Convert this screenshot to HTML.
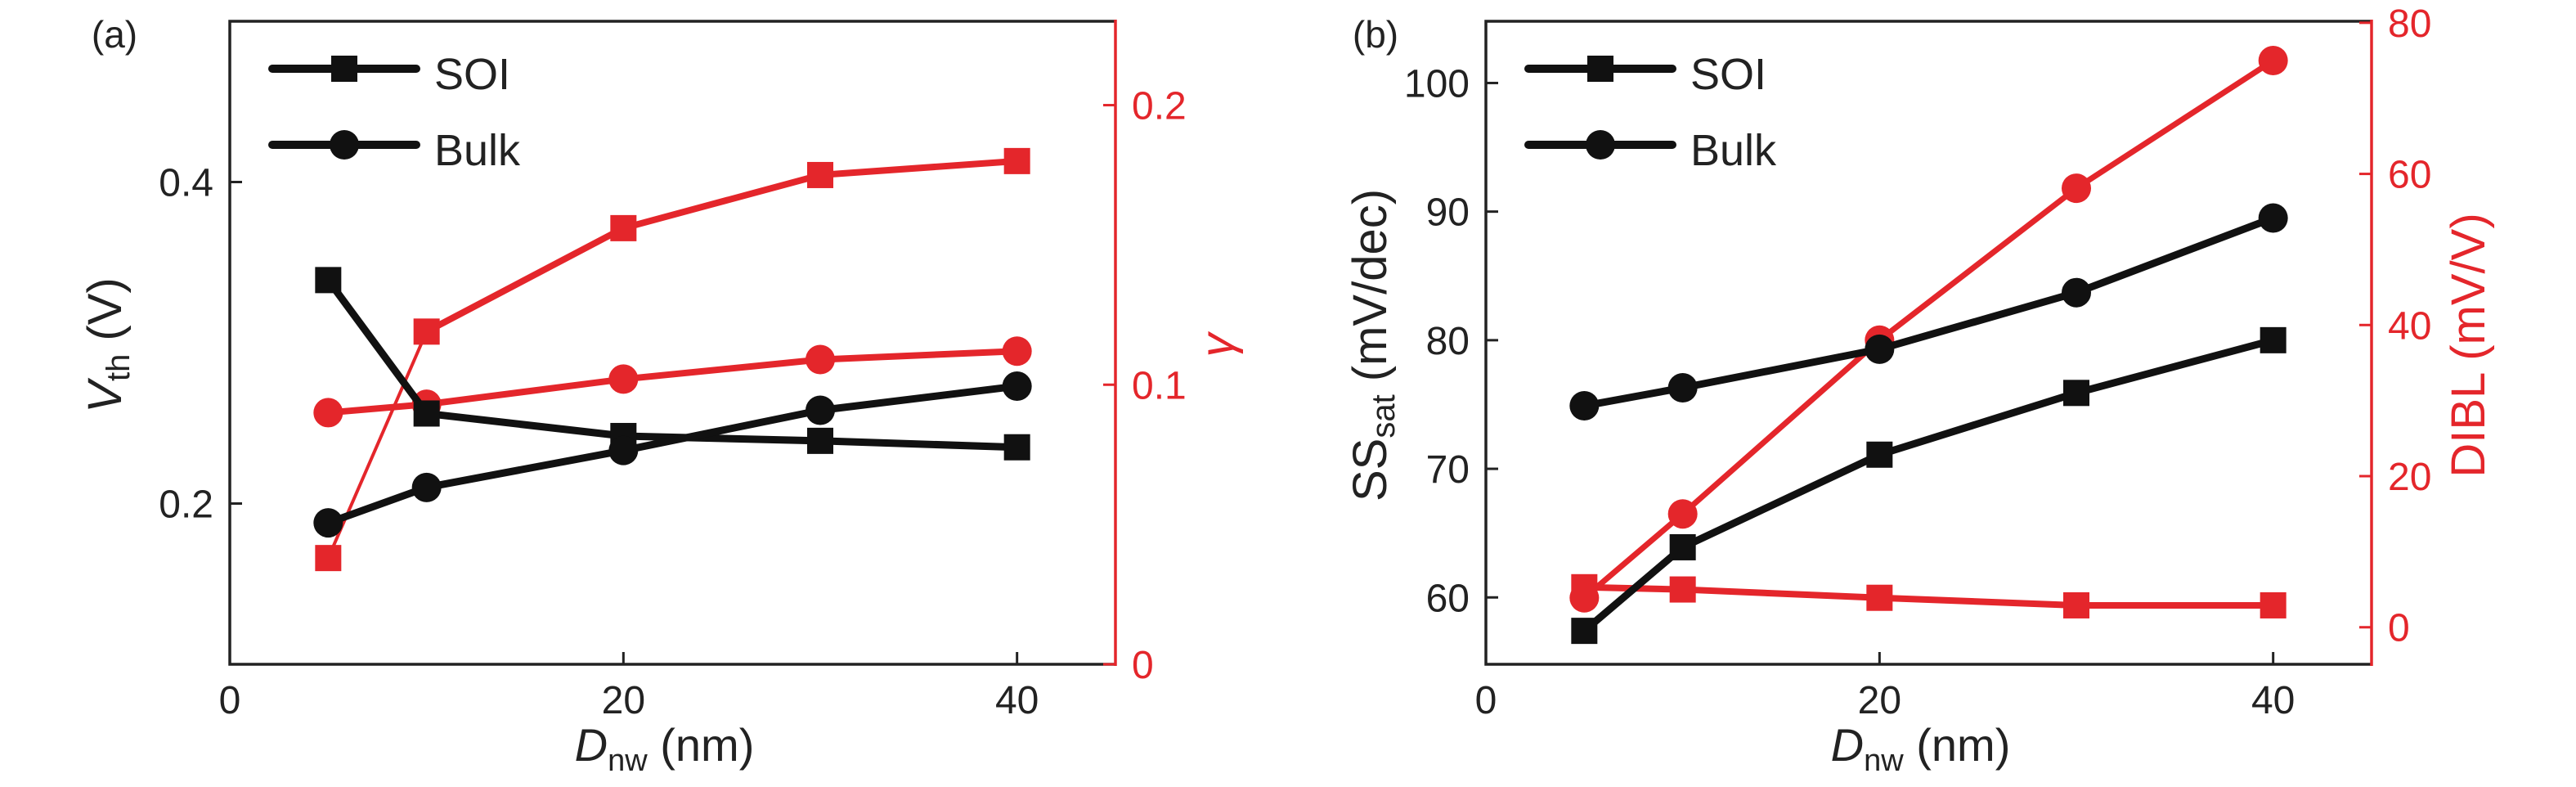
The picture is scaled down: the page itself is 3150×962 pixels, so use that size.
<!DOCTYPE html>
<html><head><meta charset="utf-8">
<style>
html,body{margin:0;padding:0;background:#fff;}
svg{display:block;font-family:"Liberation Sans",sans-serif;}
</style></head>
<body>
<svg id="chart" width="3150" height="962" viewBox="0 0 3150 962" xmlns="http://www.w3.org/2000/svg"></svg>
<script>
const xVals = [5, 10, 20, 30, 40];
const xTicks = [0, 20, 40];
// panel a
const vthSOI = [0.339, 0.256, 0.242, 0.239, 0.235];
const vthBulk = [0.188, 0.210, 0.233, 0.258, 0.273];
const gammaSOI = [0.038, 0.119, 0.156, 0.175, 0.180];
const gammaBulk = [0.090, 0.093, 0.102, 0.109, 0.112];
const vthTicks = [0.2, 0.4];
const vthTickLabels = ["0.2", "0.4"];
const gammaTicks = [0, 0.1, 0.2];
const gammaTickLabels = ["0", "0.1", "0.2"];
// panel b
const ssSOI = [57.4, 63.9, 71.1, 75.9, 80.0];
const ssBulk = [74.9, 76.3, 79.3, 83.7, 89.5];
const diblSOI = [5.3, 5.0, 3.9, 2.9, 2.9];
const diblBulk = [3.9, 15, 38, 58.1, 75];
const ssTicks = [60, 70, 80, 90, 100];
const diblTicks = [0, 20, 40, 60, 80];

const NS = "http://www.w3.org/2000/svg";
const svg = document.getElementById("chart");
const RED = "#e4262b", BLK = "#111";
function mk(tag, attrs, parent) {
  const e = document.createElementNS(NS, tag);
  for (const k in attrs) e.setAttribute(k, attrs[k]);
  (parent || svg).appendChild(e);
  return e;
}
function lin(d0, d1, r0, r1) { return v => r0 + (v - d0) / (d1 - d0) * (r1 - r0); }

function panel(cfg) {
  const g = mk("g", {});
  
  
  const L = cfg.L, R = cfg.R, T = 26, B = 812;
  const x = lin(0, 45, L, R);
  const yl = lin(cfg.lmin, cfg.lmax, B, T);
  const yr = lin(cfg.rmin, cfg.rmax, B, T);
  // frame
  const fr = mk("path", {d: `M${R} ${T} L${L} ${T} L${L} ${B} L${R} ${B}`, fill: "none", stroke: "#222", "stroke-width": 3.5}, g);
  
  
  const ra = mk("line", {x1: R, y1: T - 2, x2: R, y2: B + 2, stroke: RED, "stroke-width": 3.5}, g);
  
  
  // x ticks
  xTicks.forEach(t => {
    if (t > 0) {
      const tk = mk("line", {x1: x(t), y1: B, x2: x(t), y2: B - 15, stroke: "#222", "stroke-width": 3}, g);
      
      
    }
    const tl = mk("text", {x: x(t), y: 872, "font-size": 48, "text-anchor": "middle", fill: "#222"}, g);
    tl.textContent = t;
    
    
  });
  cfg.lticks.forEach((t, i) => {
    const tk = mk("line", {x1: L, y1: yl(t), x2: L + 15, y2: yl(t), stroke: "#222", "stroke-width": 3}, g);
    
    
    const tl = mk("text", {x: L - 20, y: yl(t) + 17, "font-size": 48, "text-anchor": "end", fill: "#222"}, g);
    tl.textContent = cfg.llabels[i];
    
    
  });
  cfg.rticks.forEach((t, i) => {
    const tk = mk("line", {x1: R, y1: yr(t), x2: R - 15, y2: yr(t), stroke: RED, "stroke-width": 3}, g);
    
    
    const tl = mk("text", {x: R + 20, y: yr(t) + 17, "font-size": 48, "text-anchor": "start", fill: RED}, g);
    tl.textContent = cfg.rlabels[i];
    
    
  });
  // series
  cfg.series.forEach(s => {
    const sg = mk("g", {}, g);
    
    
    const yf = s.axis === "l" ? yl : yr;
    for (let i = 0; i < xVals.length - 1; i++) {
      const w = (s.thinFirst && i === 0) ? 4 : s.w;
      const seg = mk("line", {x1: x(xVals[i]), y1: yf(s.vals[i]), x2: x(xVals[i+1]), y2: yf(s.vals[i+1]), stroke: s.color, "stroke-width": w, "stroke-linecap": "round"}, sg);
      
      
    }
    xVals.forEach((xv, i) => {
      const cx = x(xv), cy = yf(s.vals[i]);
      let m;
      if (s.marker === "sq") m = mk("rect", {x: cx - 16, y: cy - 16, width: 32, height: 32, fill: s.color}, sg);
      else m = mk("circle", {cx: cx, cy: cy, r: 18, fill: s.color}, sg);
      
      
    });
  });
  // legend
  [["SOI", "sq", 84], ["Bulk", "ci", 177]].forEach(([lab, mkr, ly]) => {
    const lg = mk("g", {}, g);
    
    
    mk("line", {x1: L + 52, y1: ly, x2: L + 228, y2: ly, stroke: BLK, "stroke-width": 10, "stroke-linecap": "round"}, lg);
    const cx = L + 140;
    if (mkr === "sq") mk("rect", {x: cx - 16, y: ly - 16, width: 32, height: 32, fill: BLK}, lg);
    else mk("circle", {cx: cx, cy: ly, r: 18, fill: BLK}, lg);
    const t = mk("text", {x: L + 250, y: ly + 25, "font-size": 54, fill: "#222"}, lg);
    t.textContent = lab;
  });
  // panel label
  const pl = mk("text", {x: cfg.labelX, y: 58, "font-size": 46, fill: "#222", "text-anchor": "middle"}, g);
  pl.textContent = cfg.label;
  
  
  // x title
  const xt = mk("text", {x: (L + R) / 2 - 10, y: 930, "font-size": 56, fill: "#222", "text-anchor": "middle"}, g);
  xt.innerHTML = '<tspan font-style="italic">D</tspan><tspan font-size="38" dy="12">nw</tspan><tspan dy="-12"> (nm)</tspan>';
  
  
  const lt = mk("text", {transform: `translate(${cfg.ltX},422) rotate(-90)`, "font-size": 58, fill: "#222", "text-anchor": "middle"}, g);
  lt.innerHTML = cfg.ltitle;
  
  
  const rt = mk("text", {transform: `translate(${cfg.rtX},422) rotate(-90)`, "font-size": 58, fill: RED, "text-anchor": "middle"}, g);
  rt.innerHTML = cfg.rtitle;
  
  
}

panel({
  name: "panel-a", label: "(a)", labelX: 140, L: 281, R: 1364,
  lmin: 0.1, lmax: 0.5, rmin: 0, rmax: 0.23,
  lticks: vthTicks, llabels: vthTickLabels, rticks: gammaTicks, rlabels: gammaTickLabels,
  ltX: 148, rtX: 1508,
  ltitle: '<tspan font-style="italic">V</tspan><tspan font-size="40" dy="10">th</tspan><tspan dy="-10"> (V)</tspan>',
  rtitle: '<tspan font-style="italic">γ</tspan>',
  series: [
    {name: "gamma-bulk-series", vals: gammaBulk, axis: "r", color: RED, marker: "ci", w: 8},
    {name: "gamma-soi-series", vals: gammaSOI, axis: "r", color: RED, marker: "sq", w: 8, thinFirst: true},
    {name: "vth-soi-series", vals: vthSOI, axis: "l", color: BLK, marker: "sq", w: 9},
    {name: "vth-bulk-series", vals: vthBulk, axis: "l", color: BLK, marker: "ci", w: 9}
  ]
});
panel({
  name: "panel-b", label: "(b)", labelX: 1682, L: 1817, R: 2900,
  lmin: 54.8, lmax: 104.8, rmin: -4.9, rmax: 80.2,
  lticks: ssTicks, llabels: ssTicks.map(String), rticks: diblTicks, rlabels: diblTicks.map(String),
  ltX: 1695, rtX: 3038,
  ltitle: 'SS<tspan font-size="40" dy="10">sat</tspan><tspan dy="-10"> (mV/dec)</tspan>',
  rtitle: 'DIBL (mV/V)',
  series: [
    {name: "dibl-soi-series", vals: diblSOI, axis: "r", color: RED, marker: "sq", w: 8},
    {name: "dibl-bulk-series", vals: diblBulk, axis: "r", color: RED, marker: "ci", w: 7},
    {name: "ss-soi-series", vals: ssSOI, axis: "l", color: BLK, marker: "sq", w: 9},
    {name: "ss-bulk-series", vals: ssBulk, axis: "l", color: BLK, marker: "ci", w: 9}
  ]
});
</script>
</body></html>
